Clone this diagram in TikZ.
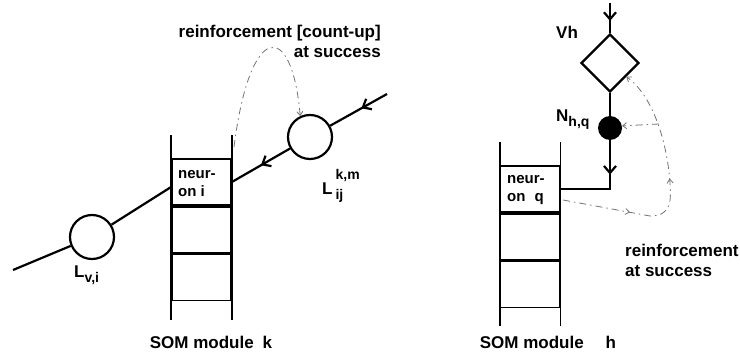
\documentclass[tikz,border=0pt]{standalone}
\usepackage{fontspec}
\setmainfont{Liberation Sans}
\usetikzlibrary{positioning,shapes.geometric,arrows.meta,decorations.markings}
\tikzset{
  cell/.style={rectangle, draw, line width=1.8pt, minimum width=59pt, minimum height=46pt, inner sep=0pt},
  rail/.style={draw, line width=1.8pt},
  wire/.style={draw, line width=2.2pt},
  link/.style={circle, draw, line width=2.2pt, minimum size=44pt, inner sep=0pt},
  reinf/.style={draw, black!55, line width=0.8pt, dash pattern=on 7pt off 4pt on 1.5pt off 4pt},
  midarrow/.style={postaction={decorate}, decoration={markings, mark=at position #1 with {\arrow{Straight Barb[length=7pt,width=12pt]}}}},
  lbl/.style={font=\fontsize{17}{20}\selectfont\bfseries, inner sep=0pt},
  celltxt/.style={font=\fontsize{15}{18}\selectfont\bfseries, inner sep=0pt, align=left},
}
\newcommand{\subtxt}[1]{{\fontsize{14}{16}\selectfont #1}}
\begin{document}
\begin{tikzpicture}[x=1pt, y=-1pt]
    \useasboundingbox (0,0) rectangle (740,355);
    % SOM module k
    \node [cell] (ni) at (201.5,182) {};
    \node [cell, below=0pt of ni] (nk2) {};
    \node [cell, below=0pt of nk2] (nk3) {};
    \draw [rail] ([yshift=23pt]ni.north west) -- ([yshift=-19pt]nk3.south west);
    \draw [rail] ([yshift=23pt]ni.north east) -- ([yshift=-19pt]nk3.south east);
    \node [celltxt, anchor=west] (nitxt) at (178,184) {neur-\\on i};
    \node [lbl] (somk) at (211,342) {SOM module\hspace{9pt}k};
    % links
    \node [link] (lvi) at (92,237) {};
    \node [link] (lij) at (310,137) {};
    \coordinate (lin) at (13,270);
    \coordinate (lout) at (387,94);
    \draw [wire] (lin) -- (lvi);
    \draw [wire] (lvi) -- ([yshift=-5pt]ni.west);
    \draw [wire, midarrow=0.5] (lij) -- (ni.east);
    \draw [wire, midarrow=0.45] (lout) -- (lij);
    \node [lbl, anchor=base west] (lvitxt) at (74,278) {L\raisebox{-5pt}{\subtxt{v,i}}};
    \node [lbl, anchor=base west] (lijtxt) at (322,195) {L\hspace{3pt}\rlap{\raisebox{-5pt}{\subtxt{ij}}}\raisebox{15pt}{\subtxt{k,m}}};
    % reinforcement k
    \coordinate (dl) at (234,147);
    \draw [reinf, -{Straight Barb[length=4pt,width=6pt]}] (dl) .. controls (250,20) and (292,20) .. (lij.115);
    \node [lbl, align=right, anchor=east] (reink) at (381,41) {reinforcement [count-up]\\at success};

    % SOM module h
    \node [cell] (nq) at (530,189) {};
    \node [cell, below=0pt of nq] (nh2) {};
    \node [cell, below=0pt of nh2] (nh3) {};
    \draw [rail] ([yshift=23pt]nq.north west) -- ([yshift=-18pt]nh3.south west);
    \draw [rail] ([yshift=23pt]nq.north east) -- ([yshift=-18pt]nh3.south east);
    \node [celltxt, anchor=west] (nqtxt) at (507,190) {neur-\\on\hspace{9pt}q};
    \node [lbl] (somh) at (548,342) {SOM module\hspace{22pt}h};
    % Vh and N
    \node [diamond, draw, line width=2.2pt, minimum width=58pt, minimum height=58pt, inner sep=0pt] (vh) at (610,63) {};
    \node [circle, fill, minimum size=24pt, inner sep=0pt] (nhq) at (610,128) {};
    \coordinate (vin) at (610,3);
    \draw [wire, midarrow=0.6] (vin) -- (vh.north);
    \draw [wire] (vh.south) -- (nhq);
    \draw [wire, midarrow=0.35] (nhq) |- (nq.east);
    \node [lbl, anchor=base west] (vhtxt) at (556,39) {Vh};
    \node [lbl, anchor=base west] (nhqtxt) at (556,122) {N\raisebox{-5pt}{\subtxt{h,q}}};
    % reinforcement h
    \coordinate (sq) at (563,200);
    \coordinate (rb1) at (650,216);
    \coordinate (rb2) at (670,183);
    \coordinate (rs) at (659,124);
    \draw [reinf, -{Straight Barb[length=4pt,width=6pt]},
      postaction={decorate}, decoration={markings,
        mark=at position 0.27 with {\arrow{Straight Barb[length=4pt,width=6pt]}},
        mark=at position 0.55 with {\arrow{Straight Barb[length=4pt,width=6pt]}}}]
      (sq) -- (rb1) .. controls (672,216) and (671,200) .. (rb2) .. controls (667,140) and (652,95) .. (vh.-40);
    \draw [reinf, -{Straight Barb[length=4pt,width=6pt]}] (rs) -- (nhq.10);
    \node [lbl, align=left, anchor=west] (reinh) at (625,260) {reinforcement\\at success};
\end{tikzpicture}
\end{document}
